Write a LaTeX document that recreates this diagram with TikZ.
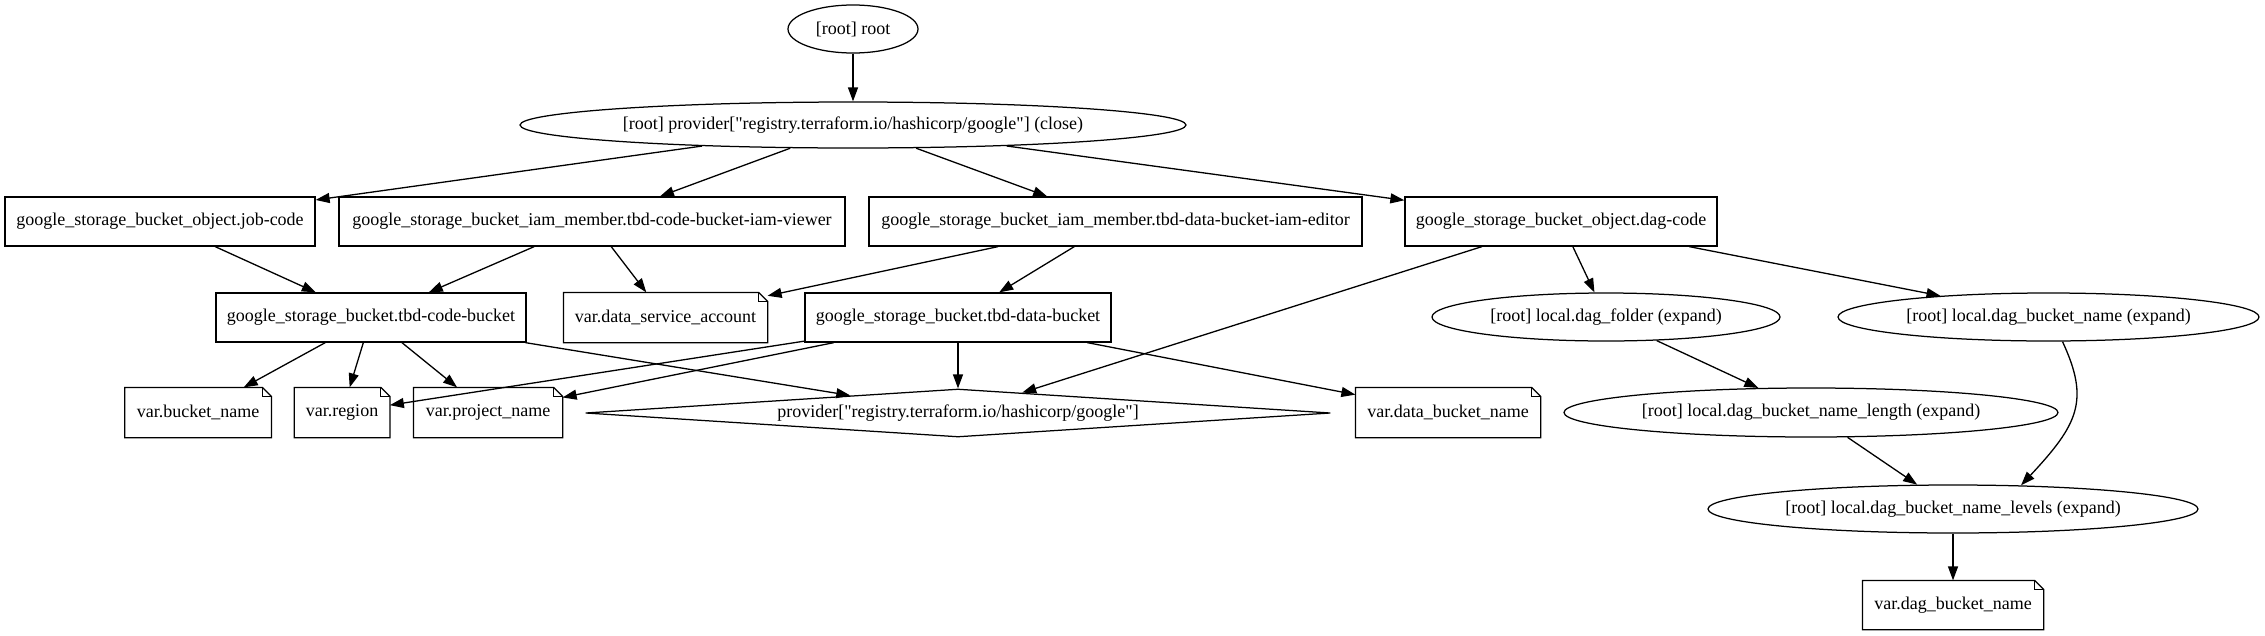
\documentclass[tikz,border=0pt]{standalone}
\usepackage{fontspec}
\setmainfont{Liberation Serif}[Ligatures=TeXOff]
\usetikzlibrary{shapes.geometric,arrows.meta}
\begin{document}
\begin{tikzpicture}[x=1pt,y=-1pt,
  every node/.style={font=\fontsize{18}{21}\selectfont, inner sep=0pt, line width=1.25pt},
  box/.style={draw, rectangle, minimum height=49pt},
  notebox/.style={rectangle, minimum height=49pt},
  oval/.style={draw, ellipse, minimum height=48pt},
  dia/.style={draw, diamond, aspect=15.5, minimum width=745pt, minimum height=48pt},
  edge/.style={line width=1.3pt, -{Triangle[length=14pt,width=10pt]}},
  noteline/.style={line width=1.25pt},
  foldline/.style={line width=0.8pt}]
\useasboundingbox (0,0) rectangle (2265,635);
% row 0/1
\node[oval, minimum width=130pt] (root) at (853,29) {[root] root};
\node[oval, minimum width=666pt, minimum height=46pt] (pclose) at (853,125) {[root] provider["registry.terraform.io/hashicorp/google"] (close)};
% row 2
\node[box, minimum width=310pt] (job) at (160,221.5) {google\_storage\_bucket\_object.job-code};
\node[box, minimum width=506pt] (iamv) at (592,221.5) {google\_storage\_bucket\_iam\_member.tbd-code-bucket-iam-viewer};
\node[box, minimum width=493pt] (iame) at (1115.5,221.5) {google\_storage\_bucket\_iam\_member.tbd-data-bucket-iam-editor};
\node[box, minimum width=312pt] (dag) at (1561,221.5) {google\_storage\_bucket\_object.dag-code};
% row 3
\node[box, minimum width=310pt] (tcb) at (371,317.5) {google\_storage\_bucket.tbd-code-bucket};
\node[notebox, minimum width=203pt] (dsa) at (665.5,317.5) {var.data\_service\_account};
\node[box, minimum width=306pt] (tdb) at (958,317.5) {google\_storage\_bucket.tbd-data-bucket};
\node[oval, minimum width=348pt] (fold) at (1606,317) {[root] local.dag\_folder (expand)};
\node[oval, minimum width=421pt] (dbn) at (2048.5,317) {[root] local.dag\_bucket\_name (expand)};
% row 4
\node[notebox, minimum width=145.5pt] (bn) at (198,412.5) {var.bucket\_name};
\node[notebox, minimum width=94.5pt] (reg) at (342,412.5) {var.region};
\node[notebox, minimum width=148pt] (pn) at (488,412.5) {var.project\_name};
\node[dia] (prov) at (958,413) {provider["registry.terraform.io/hashicorp/google"]};
\node[notebox, minimum width=184pt] (dbkn) at (1448,412.5) {var.data\_bucket\_name};
\node[oval, minimum width=494pt, minimum height=49pt] (len) at (1811,412.5) {[root] local.dag\_bucket\_name\_length (expand)};
% row 5/6
\node[oval, minimum width=490pt] (lev) at (1953,509) {[root] local.dag\_bucket\_name\_levels (expand)};
\node[notebox, minimum width=180pt, minimum height=48pt] (dagbn) at (1953,605) {var.dag\_bucket\_name};
% note outlines
\foreach \n in {dsa,bn,reg,pn,dbkn,dagbn}{
  \draw[noteline] (\n.south west) -- (\n.north west) -- ([xshift=-9pt]\n.north east) -- ([yshift=-9pt]\n.north east) -- (\n.south east) -- cycle;
  \draw[foldline] ([xshift=-9pt]\n.north east) -- ([xshift=-9pt,yshift=-9pt]\n.north east) -- ([yshift=-9pt]\n.north east);
}
% edges
\draw[edge] (root) -- (pclose);
\draw[edge] (pclose) -- (job);
\draw[edge] (pclose) -- (iamv);
\draw[edge] (pclose) -- (iame);
\draw[edge] (pclose) -- (dag);
\draw[edge] (job) -- (tcb);
\draw[edge] (iamv) -- (tcb);
\draw[edge] (iamv) -- (dsa);
\draw[edge] (iame) -- (dsa);
\draw[edge] (iame) -- (tdb);
\draw[edge] (dag) -- (prov);
\draw[edge] (dag) -- (fold);
\draw[edge] (dag) -- (dbn);
\draw[edge] (tcb) -- (bn);
\draw[edge] (tcb) -- (reg);
\draw[edge] (tcb) -- (pn);
\draw[edge] (tcb) -- (prov);
\draw[edge] (tdb) -- (reg);
\draw[edge] (tdb) -- (pn);
\draw[edge] (tdb) -- (prov);
\draw[edge] (tdb) -- (dbkn);
\draw[edge] (fold) -- (len);
\draw[edge] ([xshift=14pt]dbn.south) .. controls ([xshift=41.5pt,yshift=-59pt]dbn.south) and ([xshift=125pt,yshift=60pt]lev.north) .. ([xshift=68pt,yshift=-1pt]lev.north);
\draw[edge] (len) -- (lev);
\draw[edge] (lev) -- (dagbn);
\end{tikzpicture}
\end{document}
